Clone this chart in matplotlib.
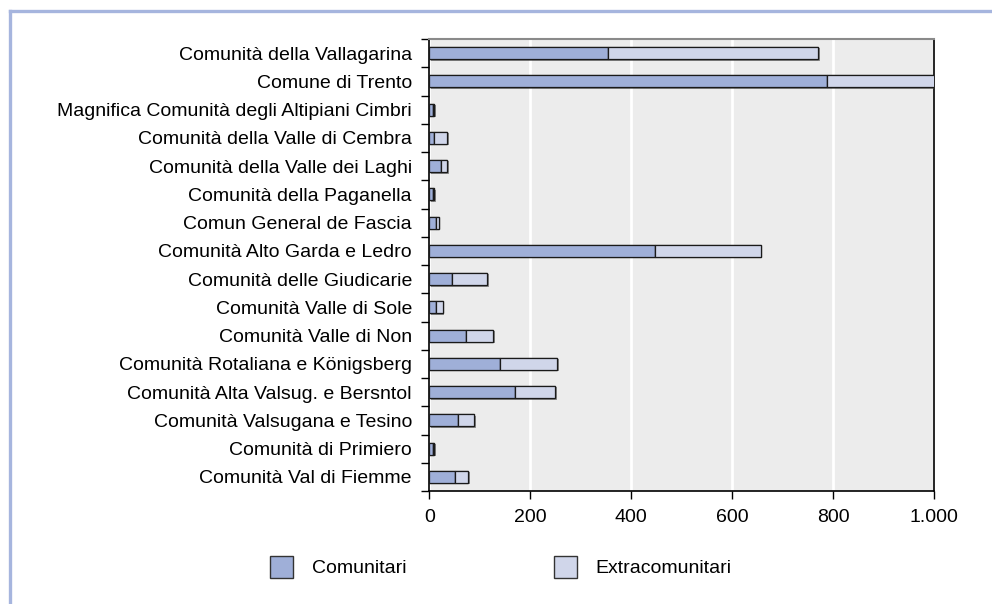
import matplotlib
matplotlib.use("Agg")
import matplotlib.pyplot as plt
from matplotlib.patches import Patch
from matplotlib.lines import Line2D
import matplotlib.patheffects as pe

plt.rcParams['font.family'] = ['Liberation Sans', 'DejaVu Sans']

categories = [
    "Comunità della Vallagarina",
    "Comune di Trento",
    "Magnifica Comunità degli Altipiani Cimbri",
    "Comunità della Valle di Cembra",
    "Comunità della Valle dei Laghi",
    "Comunità della Paganella",
    "Comun General de Fascia",
    "Comunità Alto Garda e Ledro",
    "Comunità delle Giudicarie",
    "Comunità Valle di Sole",
    "Comunità Valle di Non",
    "Comunità Rotaliana e Königsberg",
    "Comunità Alta Valsug. e Bersntol",
    "Comunità Valsugana e Tesino",
    "Comunità di Primiero",
    "Comunità Val di Fiemme",
]
comunitari = [355, 788, 7, 9, 23, 7, 13, 447, 44, 13, 72, 140, 170, 56, 7, 51]
extracomunitari = [416, 217, 3, 27, 13, 3, 6, 210, 71, 14, 55, 114, 80, 33, 3, 26]
xticks = [0, 200, 400, 600, 800, 1000]
xticklabels = ["0", "200", "400", "600", "800", "1.000"]
legend_labels = ["Comunitari", "Extracomunitari"]

c1 = "#9fafd8"
c2 = "#d0d6ea"
FS = 14

fig = plt.figure(figsize=(9.92, 6.04), dpi=100)
ax = fig.add_axes([429.3/992, 1-491/604, (934-429.3)/992, (491-39)/604])
ax.set_facecolor("#ececec")

n = len(categories)
ypos = list(range(n))
shadow = [pe.withSimplePatchShadow(offset=(1, -1), shadow_rgbFace="#555555", alpha=0.6), pe.Normal()]
b1 = ax.barh(ypos, comunitari, height=0.43, color=c1, edgecolor="#1a1a1a", linewidth=0.9, zorder=3)
b2 = ax.barh(ypos, extracomunitari, left=comunitari, height=0.43, color=c2, edgecolor="#1a1a1a", linewidth=0.9, zorder=3)
for b in list(b1) + list(b2):
    b.set_path_effects(shadow)

ax.set_ylim(n - 0.5, -0.5)
ax.set_xlim(0, 1000)
ax.set_yticks(ypos)
ax.set_yticklabels(categories, fontsize=FS)
ax.tick_params(axis='y', length=0, pad=12.5)
ax.set_yticks([i + 0.5 for i in range(-1, n)], minor=True)
ax.tick_params(axis='y', which='minor', length=6, width=1, direction='out')
ax.set_xticks(xticks)
ax.set_xticklabels(xticklabels, fontsize=FS)
ax.tick_params(axis='x', length=6, width=1, direction='out', pad=7)

ax.grid(axis='x', color='white', linewidth=2, zorder=0)
ax.set_axisbelow(True)
for s in ['left', 'bottom', 'right']:
    ax.spines[s].set_color('black')
    ax.spines[s].set_linewidth(1.2)
ax.spines['top'].set_color('#8a8a8a')
ax.spines['top'].set_linewidth(1.5)

colors = [c1, c2]
box_x = [270, 554]
for lab, col, bx in zip(legend_labels, colors, box_x):
    h = Patch(facecolor=col, edgecolor='#333333', linewidth=1)
    fig.legend([h], [lab], loc='center left', bbox_to_anchor=(bx/992, 1-567/604),
               frameon=False, fontsize=FS, handlelength=1.18, handleheight=1.44,
               handletextpad=0.96, borderpad=0, borderaxespad=0)

border = "#a6b5de"
fig.add_artist(Line2D([10/992, 10/992], [0, 1-11/604], color=border, linewidth=2.4, transform=fig.transFigure))
fig.add_artist(Line2D([10/992, 1], [1-11/604, 1-11/604], color=border, linewidth=2.4, transform=fig.transFigure))

fig.savefig("out.png", dpi=100)
